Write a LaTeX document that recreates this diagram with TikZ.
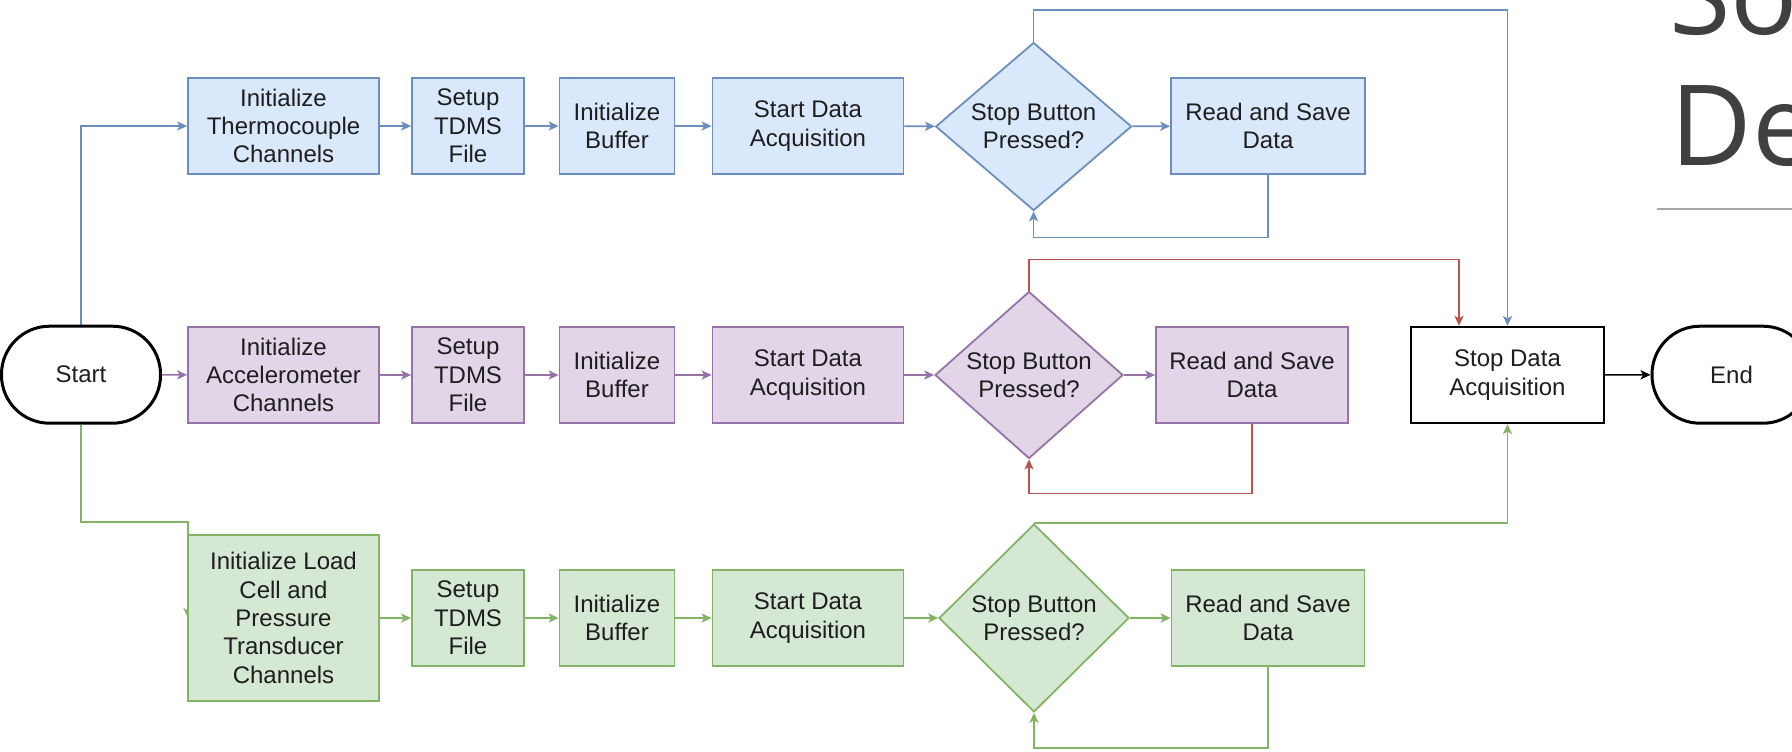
\documentclass[tikz,border=0pt]{standalone}
\usepackage{fontspec}
\setmainfont{Liberation Sans}
\newfontfamily\titlefont{Open Sans}
\usetikzlibrary{shapes.geometric,arrows.meta,calc}
\definecolor{bfill}{HTML}{DAE8FC}\definecolor{bline}{HTML}{6C8EBF}
\definecolor{pfill}{HTML}{E1D5E7}\definecolor{pline}{HTML}{9673A6}
\definecolor{gfill}{HTML}{D5E8D4}\definecolor{gline}{HTML}{82B366}
\definecolor{rline}{HTML}{B85450}
\definecolor{titlegray}{HTML}{404040}
\definecolor{rulegray}{HTML}{A6A6A6}
\definecolor{txt}{HTML}{1E1E1E}
\pgfdeclarelayer{bg}\pgfsetlayers{bg,main}
\begin{document}
\begin{tikzpicture}[x=0.5pt,y=-0.5pt,
  every node/.style={font=\fontsize{12}{14.2}\selectfont, align=center, inner sep=0pt, text=txt},
  procbox/.style={draw, rectangle, line width=0.9pt, minimum height=48pt},
  decbox/.style={draw, diamond, line width=0.9pt, inner sep=0pt},
  bbox/.style={fill=bfill, draw=bline},
  pbox/.style={fill=pfill, draw=pline},
  gbox/.style={fill=gfill, draw=gline},
  term/.style={draw=black, fill=white, line width=1.5pt, rectangle, rounded corners=24pt, minimum width=79.5pt, minimum height=48.5pt},
  conn/.style={line width=0.8pt, -{Stealth[length=5pt,width=4.6pt,inset=1.3pt]}},
  bconn/.style={conn, draw=bline},
  pconn/.style={conn, draw=pline},
  gconn/.style={conn, draw=gline},
  rconn/.style={conn, draw=rline},
  kconn/.style={conn, draw=black}]
\clip (0,0) rectangle (1792,751);
\useasboundingbox (0,0) rectangle (1792,751);

% terminals
\node[term] (start) at (81,374.7) {Start};
\node[term] (end) at (1731.5,374.7) {End};
\node[draw=black, fill=white, line width=0.9pt, rectangle, minimum width=96.5pt, minimum height=48.3pt] (stop) at (1507.5,375) {Stop Data\\Acquisition};

% top row (blue)
\node[procbox,bbox,minimum width=95.5pt] (t1) at (283.5,126) {Initialize\\Thermocouple\\Channels};
\node[procbox,bbox,minimum width=56pt] (t2) at (468,126) {Setup\\TDMS\\File};
\node[procbox,bbox,minimum width=57.5pt] (t3) at (617,126) {Initialize\\Buffer};
\node[procbox,bbox,minimum width=95.5pt] (t4) at (808,126) {Start Data\\Acquisition};
\node[decbox,bbox,minimum width=98pt,minimum height=84pt,aspect=1.17] (t5) at (1033.6,126.5) {Stop Button\\Pressed?};
\node[procbox,bbox,minimum width=97pt] (t6) at (1268,126) {Read and Save\\Data};

% middle row (purple)
\node[procbox,pbox,minimum width=95.5pt] (m1) at (283.5,375) {Initialize\\Accelerometer\\Channels};
\node[procbox,pbox,minimum width=56pt] (m2) at (468,375) {Setup\\TDMS\\File};
\node[procbox,pbox,minimum width=57.5pt] (m3) at (617,375) {Initialize\\Buffer};
\node[procbox,pbox,minimum width=95.5pt] (m4) at (808,375) {Start Data\\Acquisition};
\node[decbox,pbox,minimum width=94pt,minimum height=83.5pt,aspect=1.13] (m5) at (1029,375) {Stop Button\\Pressed?};
\node[procbox,pbox,minimum width=96pt] (m6) at (1252,375) {Read and Save\\Data};

% bottom row (green)
\node[procbox,gbox,minimum width=95.5pt,minimum height=83pt] (b1) at (283.5,618) {Initialize Load\\Cell and\\Pressure\\Transducer\\Channels};
\node[procbox,gbox,minimum width=56pt] (b2) at (468,618) {Setup\\TDMS\\File};
\node[procbox,gbox,minimum width=57.5pt] (b3) at (617,618) {Initialize\\Buffer};
\node[procbox,gbox,minimum width=95.5pt] (b4) at (808,618) {Start Data\\Acquisition};
\node[decbox,gbox,minimum width=95pt,minimum height=94pt,aspect=1.01] (b5) at (1034,618) {Stop Button\\Pressed?};
\node[procbox,gbox,minimum width=96.5pt] (b6) at (1268,618) {Read and Save\\Data};

% helper coordinates
\coordinate (ttop) at (1507.5,10);
\coordinate (tloop) at (1033.6,237.3);
\coordinate (mtop) at (1459,259.3);
\coordinate (mloop) at (1029,493.3);
\coordinate (gk) at (188,521.7);
\coordinate (bloop) at (1034,748);

\begin{pgfonlayer}{bg}
% blue
\draw[bconn] (start.north) |- (t1.west);
\draw[bconn] (t1) -- (t2);
\draw[bconn] (t2) -- (t3);
\draw[bconn] (t3) -- (t4);
\draw[bconn] (t4) -- (t5);
\draw[bconn] (t5) -- (t6);
\draw[bconn] (t6.south) |- (tloop) -- (t5.south);
\draw[bconn] (t5.north) |- (ttop) -- (stop.north);
% purple / red
\draw[pconn] (start) -- (m1);
\draw[pconn] (m1) -- (m2);
\draw[pconn] (m2) -- (m3);
\draw[pconn] (m3) -- (m4);
\draw[pconn] (m4) -- (m5);
\draw[pconn] (m5) -- (m6);
\draw[rconn] (m6.south) |- (mloop) -- (m5.south);
\draw[rconn] (m5.north) |- (mtop) -- (mtop |- stop.north);
% green
\draw[gconn] (start.south) |- (gk) -- (gk |- b1.west);
\draw[gconn] (b1) -- (b2);
\draw[gconn] (b2) -- (b3);
\draw[gconn] (b3) -- (b4);
\draw[gconn] (b4) -- (b5);
\draw[gconn] (b5) -- (b6);
\draw[gconn] (b6.south) |- (bloop) -- (b5.south);
\draw[gconn] (b5.north) -| (stop.south);
% black
\draw[kconn] (stop) -- (end);
\end{pgfonlayer}

% title fragment
\node[anchor=base west, font=\titlefont\fontsize{56}{60}\selectfont, text=titlegray] (tso) at (1669,34) {So};
\node[anchor=base west, font=\titlefont\fontsize{56}{60}\selectfont, text=titlegray] (tde) at (1670,165) {De};
\draw[rulegray, line width=0.8pt] (1657,209) -- (1800,209);
\end{tikzpicture}
\end{document}
